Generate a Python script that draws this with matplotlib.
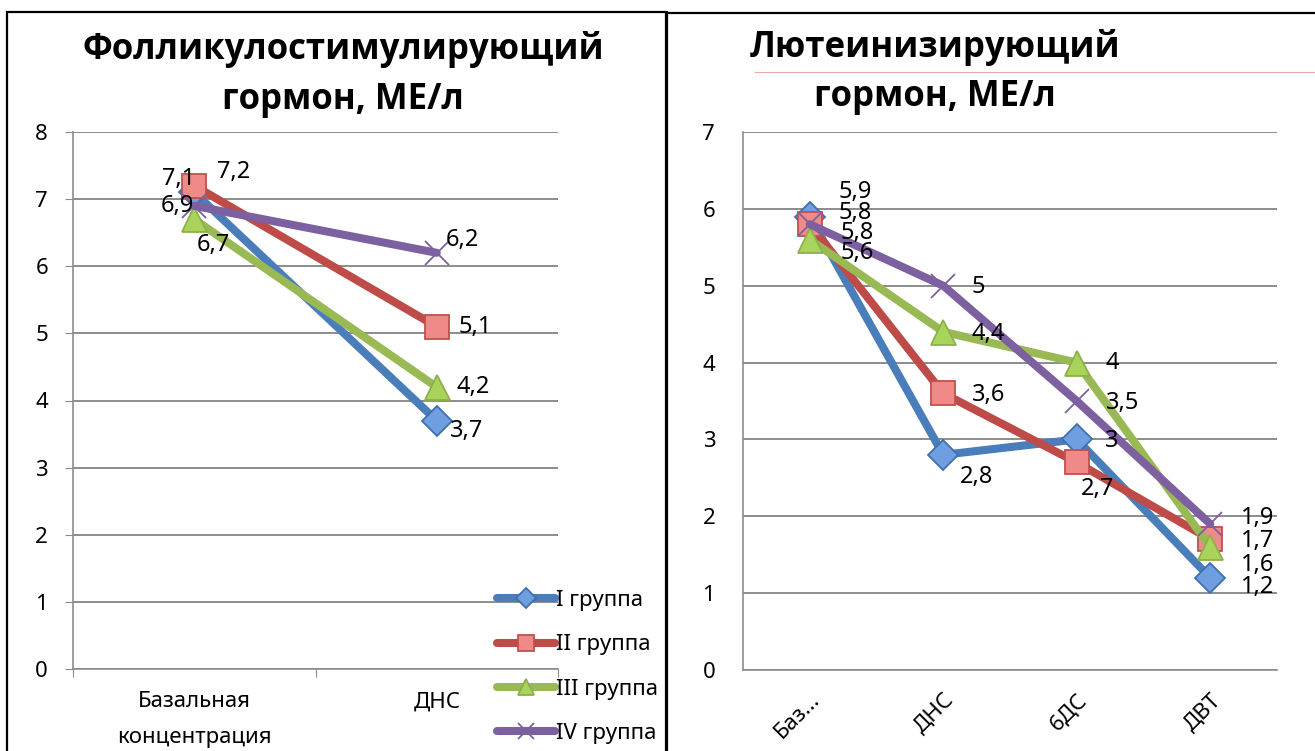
import matplotlib
matplotlib.use("Agg")
import matplotlib.pyplot as plt
from matplotlib.lines import Line2D
from matplotlib.patches import Rectangle

plt.rcParams['font.family'] = ['Noto Sans', 'DejaVu Sans']

# ---- data ----
fsh_categories = ["Базальная\nконцентрация", "ДНС"]
fsh_group1 = [7.1, 3.7]
fsh_group2 = [7.2, 5.1]
fsh_group3 = [6.7, 4.2]
fsh_group4 = [6.9, 6.2]

lh_categories = ["Баз...", "ДНС", "6ДС", "ДВТ"]
lh_group1 = [5.9, 2.8, 3.0, 1.2]
lh_group2 = [5.8, 3.6, 2.7, 1.7]
lh_group3 = [5.6, 4.4, 4.0, 1.6]
lh_group4 = [5.8, 5.0, 3.5, 1.9]

group_names = ["I группа", "II группа", "III группа", "IV группа"]

# ---- styles ----
W, H = 1315, 751
TITLE_FONT = ['Open Sans', 'Roboto', 'DejaVu Sans']
styles = [
    dict(color="#4A7EBB", marker="D", mfc="#6F9FE0", mec="#3F6FAE", ms=15),
    dict(color="#BE4B48", marker="s", mfc="#F08A88", mec="#C0504D", ms=17),
    dict(color="#98B954", marker="^", mfc="#A9D45C", mec="#8DB04A", ms=18),
    dict(color="#7D60A0", marker="x", mfc="#7D60A0", mec="#7D60A0", ms=17),
]
LW = 5.8
GRID = "#8C8C8C"

# label offsets in pixels (dx, dy) for each series / point
fsh_offsets = [
    [(-16, 13), (30, -10)],
    [(39, 14), (38, 0)],
    [(19, -26), (36, 0)],
    [(-17, 0), (26, 13)],
]
lh_offsets = [
    [(45, 25), (33, -22), (35, -2), (47, -9)],
    [(45, 11), (45, -2), (21, -27), (47, -2)],
    [(47, -13), (45, -2), (35, 0), (47, -18)],
    [(47, -9), (35, -1), (46, -2), (47, 6)],
]

fig = plt.figure(figsize=(W / 100, H / 100), dpi=100)
fig.patch.set_facecolor("white")

# chart frames
fig.add_artist(Rectangle((7 / W, -0.1), 660 / W, 1.1 - 12 / H, transform=fig.transFigure,
                         fill=False, edgecolor="black", linewidth=1.6))
fig.add_artist(Rectangle((666 / W, -0.1), 700 / W, 1.1 - 13 / H, transform=fig.transFigure,
                         fill=False, edgecolor="black", linewidth=1.6))
fig.add_artist(Line2D([755 / W, 1], [1 - 72 / H, 1 - 72 / H], transform=fig.transFigure,
                      color="#F0A8A8", linewidth=0.8))


def px_axes(x0, y_top, x1, y_bottom):
    return fig.add_axes([x0 / W, 1 - y_bottom / H, (x1 - x0) / W, (y_bottom - y_top) / H])


def style_axes(ax, ymax):
    ax.set_ylim(0, ymax)
    ax.set_yticks(range(0, ymax + 1))
    ax.yaxis.grid(True, color=GRID, linewidth=1.4)
    ax.set_axisbelow(True)
    for side in ("top", "right"):
        ax.spines[side].set_visible(False)
    for side in ("left", "bottom"):
        ax.spines[side].set_color(GRID)
        ax.spines[side].set_linewidth(1.2)
    ax.tick_params(axis="y", labelsize=16, length=6, color=GRID, pad=12)


def draw_series(ax, series, offsets):
    for vals, st, offs, name in zip(series, styles, offsets, group_names):
        x = list(range(len(vals)))
        ax.plot(x, vals, color=st["color"], linewidth=LW, marker=st["marker"],
                markerfacecolor=st["mfc"], markeredgecolor=st["mec"],
                markersize=st["ms"], markeredgewidth=1.3, label=name,
                solid_capstyle="round", zorder=3, clip_on=False)
        for xi, v, (dx, dy) in zip(x, vals, offs):
            ax.annotate(f"{v:g}".replace(".", ","), (xi, v), xytext=(dx, dy),
                        textcoords="offset pixels", ha="center", va="center",
                        fontsize=17, zorder=5)


# ---- follicle-stimulating hormone ----
ax1 = px_axes(73, 132, 558, 669)
style_axes(ax1, 8)
ax1.set_xlim(-0.5, 1.5)
draw_series(ax1, [fsh_group1, fsh_group2, fsh_group3, fsh_group4], fsh_offsets)
ax1.set_xticks([-0.5, 0.5, 1.5])
ax1.set_xticklabels([])
ax1.set_xticks([0, 1], minor=True)
ax1.set_xticklabels(fsh_categories, minor=True, fontsize=16, linespacing=1.95)
ax1.tick_params(axis="x", which="major", length=6, color=GRID)
ax1.tick_params(axis="x", which="minor", length=0, pad=16)
fig.text(343 / W, 1 - 50 / H, "Фолликулостимулирующий", ha="center", va="center",
         fontsize=25, fontweight="bold", family=TITLE_FONT)
fig.text(343 / W, 1 - 100 / H, "гормон, МЕ/л", ha="center", va="center",
         fontsize=25, fontweight="bold", family=TITLE_FONT)

leg = ax1.legend(loc="upper left", bbox_to_anchor=(497 / W, 1 - 590 / H),
                 bbox_transform=fig.transFigure, frameon=False, fontsize=16,
                 handlelength=2.6, handletextpad=0.05, labelspacing=1.05,
                 borderpad=0, borderaxespad=0, markerscale=0.65)

# ---- luteinizing hormone ----
ax2 = px_axes(743, 132, 1277, 670)
style_axes(ax2, 7)
ax2.tick_params(axis="y", length=0, pad=20)
ax2.set_xlim(-0.5, 3.5)
draw_series(ax2, [lh_group1, lh_group2, lh_group3, lh_group4], lh_offsets)
ax2.set_xticks(range(len(lh_categories)))
ax2.set_xticklabels(lh_categories, fontsize=16, rotation=45, ha="right",
                    rotation_mode="anchor")
ax2.tick_params(axis="x", length=0, pad=14)
fig.text(935 / W, 1 - 47 / H, "Лютеинизирующий", ha="center", va="center",
         fontsize=25, fontweight="bold", family=TITLE_FONT)
fig.text(935 / W, 1 - 97 / H, "гормон, МЕ/л", ha="center", va="center",
         fontsize=25, fontweight="bold", family=TITLE_FONT)

fig.savefig("out.png", dpi=100, facecolor="white")
